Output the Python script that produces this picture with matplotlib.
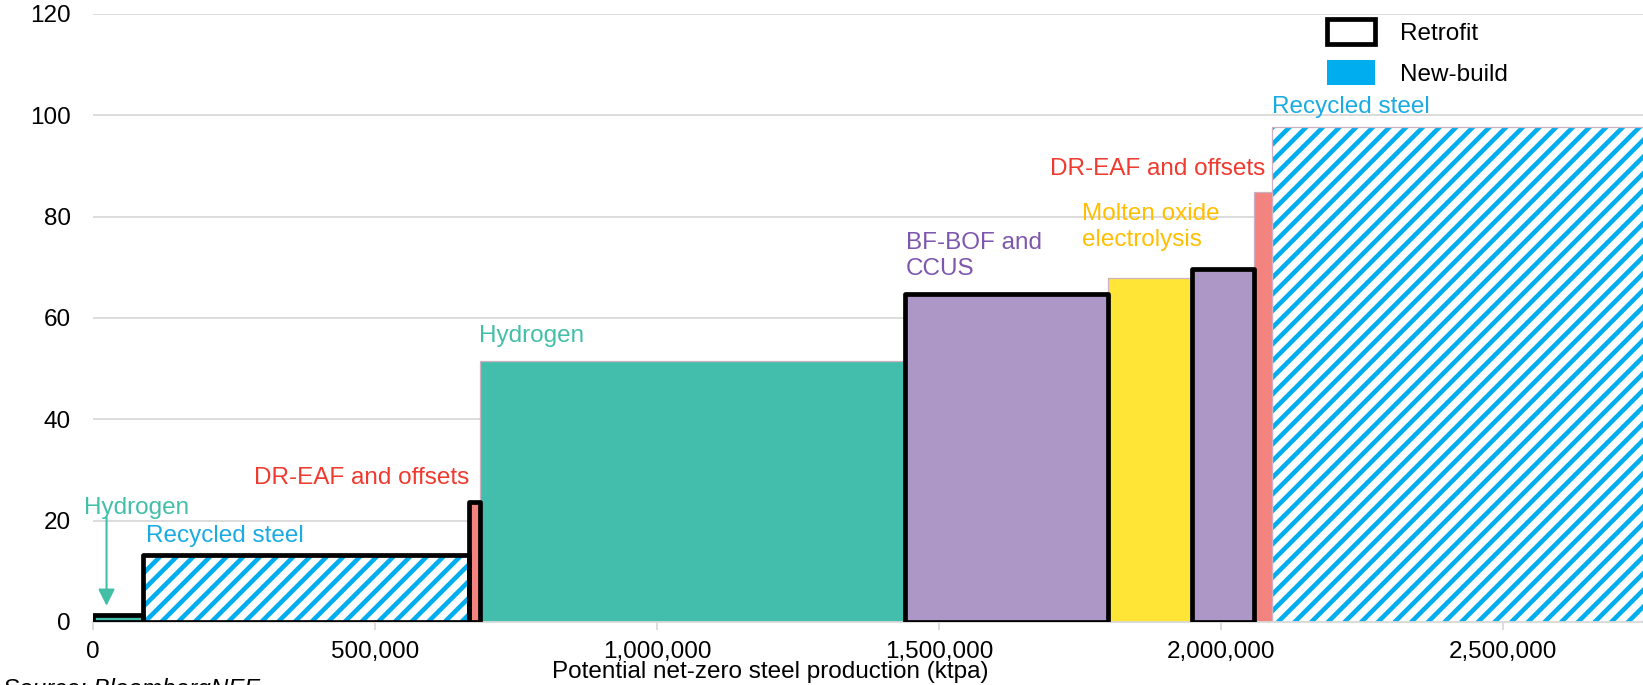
import matplotlib.pyplot as plt
from matplotlib.patches import Patch
from matplotlib.ticker import FuncFormatter

plt.rcParams['font.family'] = ['Liberation Sans', 'DejaVu Sans']
plt.rcParams['font.size'] = 17.5
plt.rcParams['hatch.linewidth'] = 3.3

# abatement cost curve blocks, left to right
techs = ['Hydrogen', 'Recycled steel', 'DR-EAF and offsets', 'Hydrogen', 'BF-BOF and CCUS',
         'Molten oxide electrolysis', 'BF-BOF and CCUS', 'DR-EAF and offsets', 'Recycled steel']
kinds = ['Retrofit', 'Retrofit', 'Retrofit', 'New-build', 'Retrofit',
         'New-build', 'Retrofit', 'New-build', 'New-build']
widths = [88000, 578000, 20000, 754000, 360000, 148000, 110000, 33000, 709000]
costs = [1.3, 13.3, 23.6, 51.6, 64.8, 67.8, 69.7, 84.9, 97.7]

xticks = [0, 500000, 1000000, 1500000, 2000000, 2500000]
yticks = [0, 20, 40, 60, 80, 100, 120]

fill = {'Hydrogen': '#44BEAC', 'Recycled steel': 'white', 'DR-EAF and offsets': '#F2837E',
        'BF-BOF and CCUS': '#AC97C7', 'Molten oxide electrolysis': '#FFE536'}
text_col = {'Hydrogen': '#43BFA8', 'Recycled steel': '#1AABE3', 'DR-EAF and offsets': '#EE3A2F',
            'BF-BOF and CCUS': '#7D57AE', 'Molten oxide electrolysis': '#FFBF00'}
blue = '#00AEEF'

lefts = []
pos = 0
for w in widths:
    lefts.append(pos)
    pos += w

fig = plt.figure(figsize=(16.43, 6.85), dpi=100)
ax = fig.add_axes([0.0566, 0.092, 0.9434, 0.8876])

for l, w, c, t, k in zip(lefts, widths, costs, techs, kinds):
    if t == 'Recycled steel':
        ax.bar(l, c, w, align='edge', color='white', edgecolor=blue, hatch='//', linewidth=0, zorder=2)
    else:
        ax.bar(l, c, w, align='edge', color=fill[t], linewidth=0, zorder=2)
    if k == 'New-build':
        ax.bar(l, c, w, align='edge', fill=False, edgecolor='#CDB0C2', linewidth=0.9, zorder=2.5)

# thick black outline for retrofit blocks
for l, w, c, k in zip(lefts, widths, costs, kinds):
    if k == 'Retrofit':
        ax.bar(l, c, w, align='edge', fill=False, edgecolor='black', linewidth=3.4,
               joinstyle='round', zorder=3)

# (text, x, baseline of last line, colour key)
labels = [
    ('Hydrogen', -16000, 21.3, 'Hydrogen'),
    ('Recycled steel', 94000, 15.85, 'Recycled steel'),
    ('DR-EAF and offsets', 285000, 27.2, 'DR-EAF and offsets'),
    ('Hydrogen', 685000, 55.3, 'Hydrogen'),
    ('BF-BOF and\nCCUS', 1441000, 68.5, 'BF-BOF and CCUS'),
    ('Molten oxide\nelectrolysis', 1753000, 74.2, 'Molten oxide electrolysis'),
    ('DR-EAF and offsets', 1696000, 88.2, 'DR-EAF and offsets'),
    ('Recycled steel', 2090000, 100.5, 'Recycled steel'),
]
for s, x, y, key in labels:
    ax.text(x, y, s, color=text_col[key], ha='left', va='baseline', linespacing=1.22, zorder=4)

ax.annotate('', xy=(24000, 3.2), xytext=(24000, 20.7),
            arrowprops=dict(arrowstyle='-|>', color=text_col['Hydrogen'], lw=1.5,
                            mutation_scale=25, shrinkA=0, shrinkB=0), zorder=4)

ax.set_xlim(0, 2748000)
ax.set_ylim(0, 120)
ax.set_xticks(xticks)
ax.set_yticks(yticks)
ax.xaxis.set_major_formatter(FuncFormatter(lambda v, p: f'{int(v):,}'))
ax.grid(axis='y', color='#D9D9D9', linewidth=1.3, zorder=0)
ax.set_axisbelow(True)
for side in ['top', 'right', 'left']:
    ax.spines[side].set_visible(False)
ax.spines['bottom'].set_color('#D9D9D9')
ax.spines['bottom'].set_linewidth(1.3)
ax.tick_params(axis='y', length=0, pad=16)
ax.tick_params(axis='x', length=6, width=1.3, color='#D9D9D9', pad=8)

ax.set_xlabel('Potential net-zero steel production (ktpa)')
ax.xaxis.set_label_coords(0.4368, -0.0817)
ax.xaxis.label.set_va('center')

handles = [Patch(facecolor='white', edgecolor='black', linewidth=3.4, joinstyle='round'),
           Patch(facecolor=blue, edgecolor='none')]
ax.legend(handles, ['Retrofit', 'New-build'], loc='upper left', bbox_to_anchor=(0.8075, 0.9723),
          bbox_transform=fig.transFigure, frameon=False, borderpad=0, borderaxespad=0,
          handlelength=2.0, handleheight=1.2, handletextpad=1.03, labelspacing=0.64)

fig.text(0.002, -0.016, 'Source: BloombergNEF', style='italic', va='baseline')

fig.savefig('out.png', dpi=100)
